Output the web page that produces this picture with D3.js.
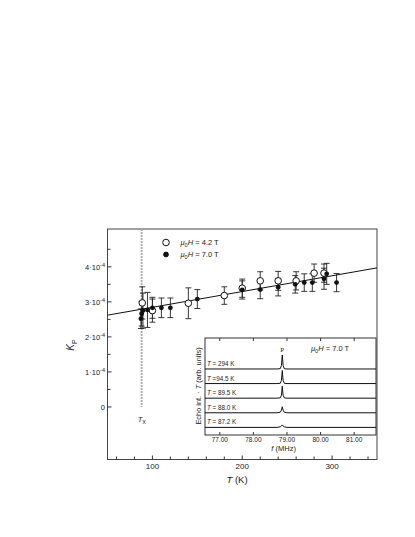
<!DOCTYPE html>
<html lang="en">
<head>
    <meta charset="UTF-8">
    <script src="https://d3js.org/d3.v7.min.js"></script>
    <title>Kp vs T</title>
    <style>
        body { margin: 0; background: #fff; }
        text { font-family: "Liberation Sans", Arial, sans-serif; fill: #222; }
    </style>
</head>
<body>
<script>
    // main data: temperature (K), Kp, error
    const openT   = [88.7, 100, 140, 180, 200, 220, 240, 260, 280, 291];
    const openK   = [2.97e-4, 2.75e-4, 2.96e-4, 3.18e-4, 3.39e-4, 3.60e-4, 3.60e-4, 3.60e-4, 3.82e-4, 3.82e-4];
    const openErr = [0.46e-4, 0.33e-4, 0.44e-4, 0.25e-4, 0.26e-4, 0.26e-4, 0.27e-4, 0.26e-4, 0.26e-4, 0.26e-4];

    const fillT   = [87.2, 88.0, 89.5, 94.5, 100, 110, 120, 150, 200, 220, 240, 259, 269, 278, 291, 294, 305];
    const fillK   = [2.52e-4, 2.66e-4, 2.75e-4, 2.77e-4, 2.83e-4, 2.83e-4, 2.83e-4, 3.08e-4, 3.34e-4, 3.35e-4, 3.42e-4, 3.50e-4, 3.55e-4, 3.55e-4, 3.66e-4, 3.80e-4, 3.55e-4];
    const fillErr = [0.28e-4, 0.35e-4, 0.50e-4, 0.50e-4, 0.30e-4, 0.28e-4, 0.28e-4, 0.27e-4, 0.26e-4, 0.26e-4, 0.25e-4, 0.25e-4, 0.25e-4, 0.25e-4, 0.30e-4, 0.30e-4, 0.26e-4];

    const fitT = [50, 350];
    const fitK = [2.62e-4, 3.97e-4];
    const Tx = 88;

    const xTicksMajor = [100, 200, 300];
    const yTicksMajor = [0, 1, 2, 3, 4];

    // inset spectra: frequency (MHz) and intensity (arb.) per temperature
    const traceLabels = ["T = 87.2 K", "T = 88.0 K", "T = 89.5 K", "T =94.5 K", "T = 294 K"];
    const traceFreq = [76.56, 78.70, 78.80, 78.835, 78.86, 78.885, 78.92, 79.00, 81.65];
    const traceInt = [
        [0, 0, 0.04, 0.10, 0.17, 0.10, 0.04, 0, 0],
        [0, 0, 0.04, 0.18, 0.41, 0.18, 0.04, 0, 0],
        [0, 0, 0.02, 0.20, 0.82, 0.20, 0.02, 0, 0],
        [0, 0, 0.02, 0.22, 0.89, 0.22, 0.02, 0, 0],
        [0, 0, 0.02, 0.24, 0.96, 0.24, 0.02, 0, 0]
    ];
    const fTicks = [77, 78, 79, 80, 81];

    const svg = d3.select("body").append("svg")
        .attr("width", 415)
        .attr("height", 537);

    const x = d3.scaleLinear().domain([50, 350]).range([107.5, 377]);
    const y = d3.scaleLinear().domain([-1.5e-4, 5.08e-4]).range([459.5, 229]);
    const stroke = "#333";

    // frame
    svg.append("rect")
        .attr("x", x(50)).attr("y", y(5.08e-4))
        .attr("width", x(350) - x(50)).attr("height", y(-1.5e-4) - y(5.08e-4))
        .attr("fill", "none").attr("stroke", "#444").attr("stroke-width", 1);

    // x ticks (inward)
    const xMinor = d3.range(60, 350, 20);
    svg.append("g").selectAll("line").data(xMinor).enter().append("line")
        .attr("x1", d => x(d)).attr("x2", d => x(d))
        .attr("y1", y.range()[0]).attr("y2", d => y.range()[0] - (xTicksMajor.includes(d) ? 4 : 3))
        .attr("stroke", stroke);
    svg.append("g").selectAll("text").data(xTicksMajor).enter().append("text")
        .attr("x", d => x(d)).attr("y", 469)
        .attr("text-anchor", "middle").attr("font-size", 8)
        .text(d => d);

    // y ticks (inward)
    const yMinor = d3.range(0, 4.6, 0.5);
    svg.append("g").selectAll("line").data(yMinor).enter().append("line")
        .attr("x1", x(50)).attr("x2", d => x(50) + (d % 1 === 0 ? 4 : 3))
        .attr("y1", d => y(d * 1e-4)).attr("y2", d => y(d * 1e-4))
        .attr("stroke", stroke);
    const yl = svg.append("g").selectAll("text").data(yTicksMajor).enter().append("text")
        .attr("x", 105).attr("y", d => y(d * 1e-4) + 3)
        .attr("text-anchor", "end").attr("font-size", 7.5);
    yl.each(function (d) {
        const t = d3.select(this);
        if (d === 0) { t.text("0"); return; }
        t.append("tspan").text(d + "\u00b710");
        t.append("tspan").attr("dy", -3).attr("font-size", 5.5).text("-4");
    });

    // axis titles
    const xt = svg.append("text").attr("x", 237).attr("y", 483)
        .attr("text-anchor", "middle").attr("font-size", 9.5);
    xt.append("tspan").attr("font-style", "italic").text("T");
    xt.append("tspan").text(" (K)");

    const yt = svg.append("text")
        .attr("transform", "translate(74,345) rotate(-90)")
        .attr("text-anchor", "middle").attr("font-size", 10);
    yt.append("tspan").attr("font-style", "italic").text("K");
    yt.append("tspan").attr("dy", 2.5).attr("font-size", 7).text("P");

    // T_x dashed line
    svg.append("line")
        .attr("x1", x(Tx)).attr("x2", x(Tx))
        .attr("y1", y(5.08e-4)).attr("y2", y(0))
        .attr("stroke", "#aaa").attr("stroke-width", 1.8)
        .attr("stroke-dasharray", "2,1");
    const txl = svg.append("text").attr("x", x(Tx) - 4).attr("y", 422).attr("font-size", 7.5);
    txl.append("tspan").attr("font-style", "italic").text("T");
    txl.append("tspan").attr("dy", 2).attr("font-size", 5.5).text("X");

    // fit line
    svg.append("line")
        .attr("x1", x(fitT[0])).attr("y1", y(fitK[0]))
        .attr("x2", x(fitT[1])).attr("y2", y(fitK[1]))
        .attr("stroke", "#111").attr("stroke-width", 1);

    // error bars
    const drawErr = (T, K, E) => {
        const g = svg.append("g").attr("stroke", "#222").attr("stroke-width", 0.9);
        T.forEach((t, i) => {
            const cx = x(t);
            g.append("line").attr("x1", cx).attr("x2", cx)
                .attr("y1", y(K[i] - E[i])).attr("y2", y(K[i] + E[i]));
            [K[i] - E[i], K[i] + E[i]].forEach(v => {
                g.append("line").attr("x1", cx - 3).attr("x2", cx + 3)
                    .attr("y1", y(v)).attr("y2", y(v));
            });
        });
    };
    drawErr(fillT, fillK, fillErr);
    drawErr(openT, openK, openErr);

    svg.append("g").selectAll("circle").data(openT).enter().append("circle")
        .attr("cx", d => x(d)).attr("cy", (d, i) => y(openK[i])).attr("r", 3.3)
        .attr("fill", "#fff").attr("stroke", "#111").attr("stroke-width", 1);
    svg.append("g").selectAll("circle").data(fillT).enter().append("circle")
        .attr("cx", d => x(d)).attr("cy", (d, i) => y(fillK[i])).attr("r", 2.4)
        .attr("fill", "#111");

    // legend
    const legend = [{open: true, val: "4.2 T", yy: 242.5}, {open: false, val: "7.0 T", yy: 254.5}];
    legend.forEach(l => {
        svg.append("circle").attr("cx", 166).attr("cy", l.yy).attr("r", l.open ? 3.3 : 2.4)
            .attr("fill", l.open ? "#fff" : "#111").attr("stroke", "#111").attr("stroke-width", 1);
        const t = svg.append("text").attr("x", 180.5).attr("y", l.yy + 2.8).attr("font-size", 7.5);
        t.append("tspan").attr("font-style", "italic").text("\u03bc");
        t.append("tspan").attr("dy", 1.8).attr("font-size", 5.5).text("0");
        t.append("tspan").attr("dy", -1.8).attr("font-style", "italic").text("H");
        t.append("tspan").text(" = " + l.val);
    });

    // inset
    const fx = d3.scaleLinear().domain([76.56, 81.65]).range([205, 376]);
    const fy = d3.scaleLinear().domain([-0.52, 6.12]).range([435, 338]);
    const inset = svg.append("g");
    inset.append("rect")
        .attr("x", fx.range()[0]).attr("y", fy.range()[1])
        .attr("width", fx.range()[1] - fx.range()[0]).attr("height", fy.range()[0] - fy.range()[1])
        .attr("fill", "#fff").attr("stroke", "#333").attr("stroke-width", 1);
    fTicks.forEach(f => {
        inset.append("line").attr("x1", fx(f)).attr("x2", fx(f))
            .attr("y1", fy.range()[0]).attr("y2", fy.range()[0] - 3).attr("stroke", stroke);
        inset.append("line").attr("x1", fx(f)).attr("x2", fx(f))
            .attr("y1", fy.range()[1]).attr("y2", fy.range()[1] + 3).attr("stroke", stroke);
        inset.append("text").attr("x", fx(f)).attr("y", 442)
            .attr("text-anchor", "middle").attr("font-size", 6.5).text(f.toFixed(2));
    });
    const fl = inset.append("text").attr("x", fx(78.9)).attr("y", 451)
        .attr("text-anchor", "middle").attr("font-size", 7.5);
    fl.append("tspan").attr("font-style", "italic").text("f");
    fl.append("tspan").text(" (MHz)");

    const il = inset.append("text")
        .attr("transform", "translate(201,386) rotate(-90)")
        .attr("text-anchor", "middle").attr("font-size", 7.4);
    il.append("tspan").text("Echo int. \u00b7 ");
    il.append("tspan").attr("font-style", "italic").text("T");
    il.append("tspan").text("   (arb. units)");

    const line = d3.line().x(d => fx(d[0])).y(d => fy(d[1]));
    traceInt.forEach((ints, k) => {
        const pts = traceFreq.map((f, j) => [f, k + ints[j]]);
        inset.append("path").datum(pts)
            .attr("d", line).attr("fill", "none")
            .attr("stroke", "#111").attr("stroke-width", 1);
        const t = inset.append("text").attr("x", 207).attr("y", fy(k) - 3).attr("font-size", 6.3);
        t.append("tspan").attr("font-style", "italic").text("T");
        t.append("tspan").text(traceLabels[k].slice(1));
    });

    inset.append("text").attr("x", fx(78.86)).attr("y", 352)
        .attr("text-anchor", "middle").attr("font-size", 7)
        .style("font-family", "'Liberation Serif', serif").text("P");

    const hl = inset.append("text").attr("x", 311).attr("y", 351).attr("font-size", 7.5);
    hl.append("tspan").attr("font-style", "italic").text("\u03bc");
    hl.append("tspan").attr("dy", 1.8).attr("font-size", 5.5).text("0");
    hl.append("tspan").attr("dy", -1.8).attr("font-style", "italic").text("H");
    hl.append("tspan").text(" = 7.0 T");
</script>
</body>
</html>
